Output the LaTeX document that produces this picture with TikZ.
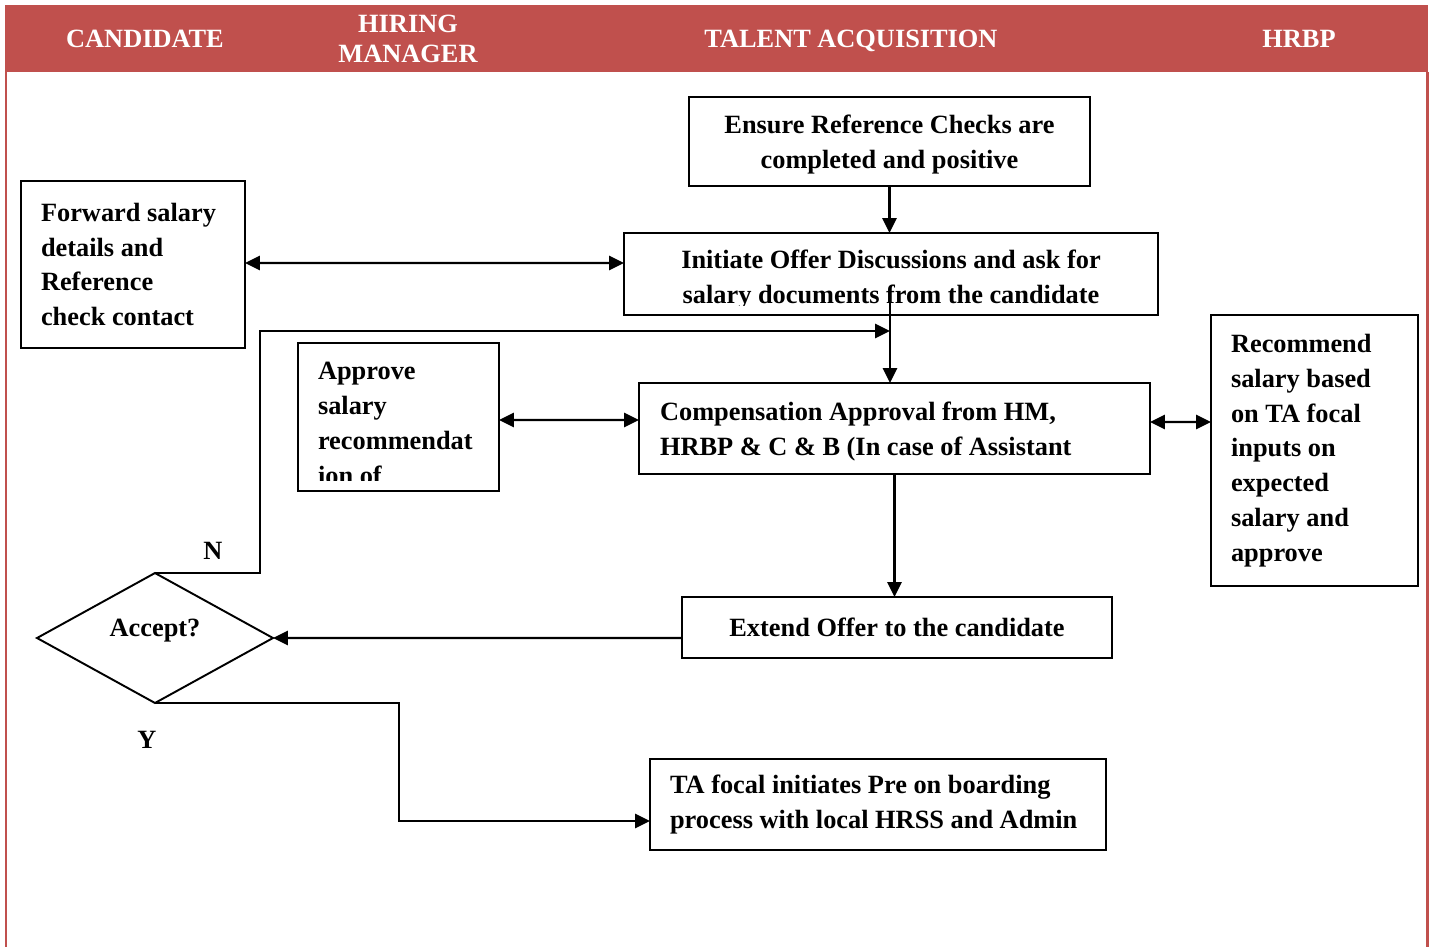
\documentclass[tikz,border=0pt]{standalone}
\usepackage{fontspec}
\setmainfont{Liberation Serif}
\usetikzlibrary{arrows.meta}
\usetikzlibrary{shapes.geometric}
\definecolor{hdrred}{HTML}{C0504D}

\begin{document}
\begin{tikzpicture} [x=0.02cm, y=-0.02cm,
        every node/.style={font=\fontsize{15}{19.8}\selectfont\bfseries},
        box/.style={draw, line width=1.1pt, outer sep=0pt, inner sep=0pt},
        lbox/.style={box, align=flush left, inner xsep=0.4cm},
        cbox/.style={box, align=center},
        intxt/.style={inner sep=0pt, minimum width=0pt, minimum height=0pt},
        head/.style={text=white, align=center, text depth=0pt, font=\fontsize{15}{17}\selectfont\bfseries},
        link/.style={line width=1.4pt, -{Triangle[length=8.5pt,width=8pt]}},
        both/.style={line width=1.4pt, {Triangle[length=8.5pt,width=8pt]}-{Triangle[length=8.5pt,width=8pt]}}]
            \useasboundingbox (0,0) rectangle (1433,947);

            % header band and lane borders
            \fill[hdrred] (5,5) rectangle (1428,72);
            \draw[hdrred, line width=0.06cm] (6,72) -- (6,947);
            \draw[hdrred, line width=0.06cm] (1427,72) -- (1427,947);
            \node[head] (cand) at (145,39)  {CANDIDATE};
            \node[head] (hm)   at (408,39)  {HIRING\\MANAGER};
            \node[head] (tacq) at (851,39)  {TALENT ACQUISITION};
            \node[head] (hrbp) at (1299,39) {HRBP};

            % steps
            \node[cbox, minimum width=8.02cm, minimum height=1.78cm, text depth=0pt] (ensure) at (889.5,141.5)
                {Ensure Reference Checks are\\completed and positive};
            \node[lbox, text width=3.68cm, minimum height=3.34cm] (fwd) at (133,264.5)
                {\mbox{Forward salary}\\details and\\Reference\\check contact};
            \node[box, minimum width=10.68cm, minimum height=1.64cm, path picture={
                    \clip ([yshift=0.2cm]path picture bounding box.south west) rectangle (path picture bounding box.north east);
                    \node[intxt, anchor=north, align=center] (inittxt) at ([yshift=-0.34cm]path picture bounding box.north)
                        {Initiate Offer Discussions and ask for\\salary documents from the candidate};
                }] (init) at (891,274) {};
            \node[box, minimum width=4.02cm, minimum height=2.96cm, path picture={
                    \clip ([yshift=0.2cm]path picture bounding box.south west) rectangle (path picture bounding box.north east);
                    \node[intxt, anchor=north west, align=left] (apprtxt) at ([xshift=0.4cm, yshift=-0.39cm]path picture bounding box.north west)
                        {Approve\\salary\\recommendat\\ion of};
                }] (appr) at (398.5,417) {};
            \node[box, minimum width=10.22cm, minimum height=1.82cm, path picture={
                    \clip ([yshift=0.2cm]path picture bounding box.south west) rectangle (path picture bounding box.north east);
                    \node[intxt, anchor=north west, align=left] (comptxt) at ([xshift=0.42cm, yshift=-0.38cm]path picture bounding box.north west)
                        {Compensation Approval from HM,\\HRBP \& C \& B (In case of Assistant\\Manager and above)};
                }] (comp) at (894.5,428.5) {};
            \node[lbox, text width=3.34cm, minimum height=5.42cm] (rec) at (1314.5,450.5)
                {Recommend\\salary based\\on TA focal\\inputs on\\expected\\salary and\\approve};
            \node[cbox, minimum width=8.6cm, minimum height=1.22cm] (ext) at (897,627.5)
                {Extend Offer to the candidate};
            \node[box, diamond, aspect=1.8, minimum width=4.72cm, minimum height=2.6cm, text depth=0.4cm] (dec) at (155,638)
                {Accept?};
            \node[lbox, text width=8.32cm, minimum height=1.82cm] (ta) at (878,804.5)
                {\mbox{TA focal initiates Pre on boarding}\\\mbox{process with local HRSS and Admin}};

            \node (no)  at (213,551) {N};
            \node (yes) at (147,740) {Y};

            \coordinate (join) at (890,331);
            \coordinate (jtop) at (890,303);

            % connectors
            \draw[link] (ensure.south) -- (ensure.south |- init.north);
            \draw[both] ([yshift=0.03cm]fwd.east) -- ([yshift=0.22cm]init.west);
            \draw[line width=1.4pt] (jtop) -- (join);
            \draw[link] (join) -- (join |- comp.north);
            \draw[link] (dec.north) -- ++(105,0) |- (join);
            \draw[both] ([yshift=-0.06cm]appr.east) -- ([yshift=0.17cm]comp.west);
            \draw[both] ([yshift=0.13cm]comp.east) -- ([yshift=0.57cm]rec.west);
            \draw[link] (comp.south) -- (comp.south |- ext.north);
            \draw[link] ([yshift=-0.21cm]ext.west) -- (dec.east);
            \draw[link] (dec.south) -- ++(244,0) |- ([yshift=-0.33cm]ta.west);
        \end{tikzpicture}
\end{document}
